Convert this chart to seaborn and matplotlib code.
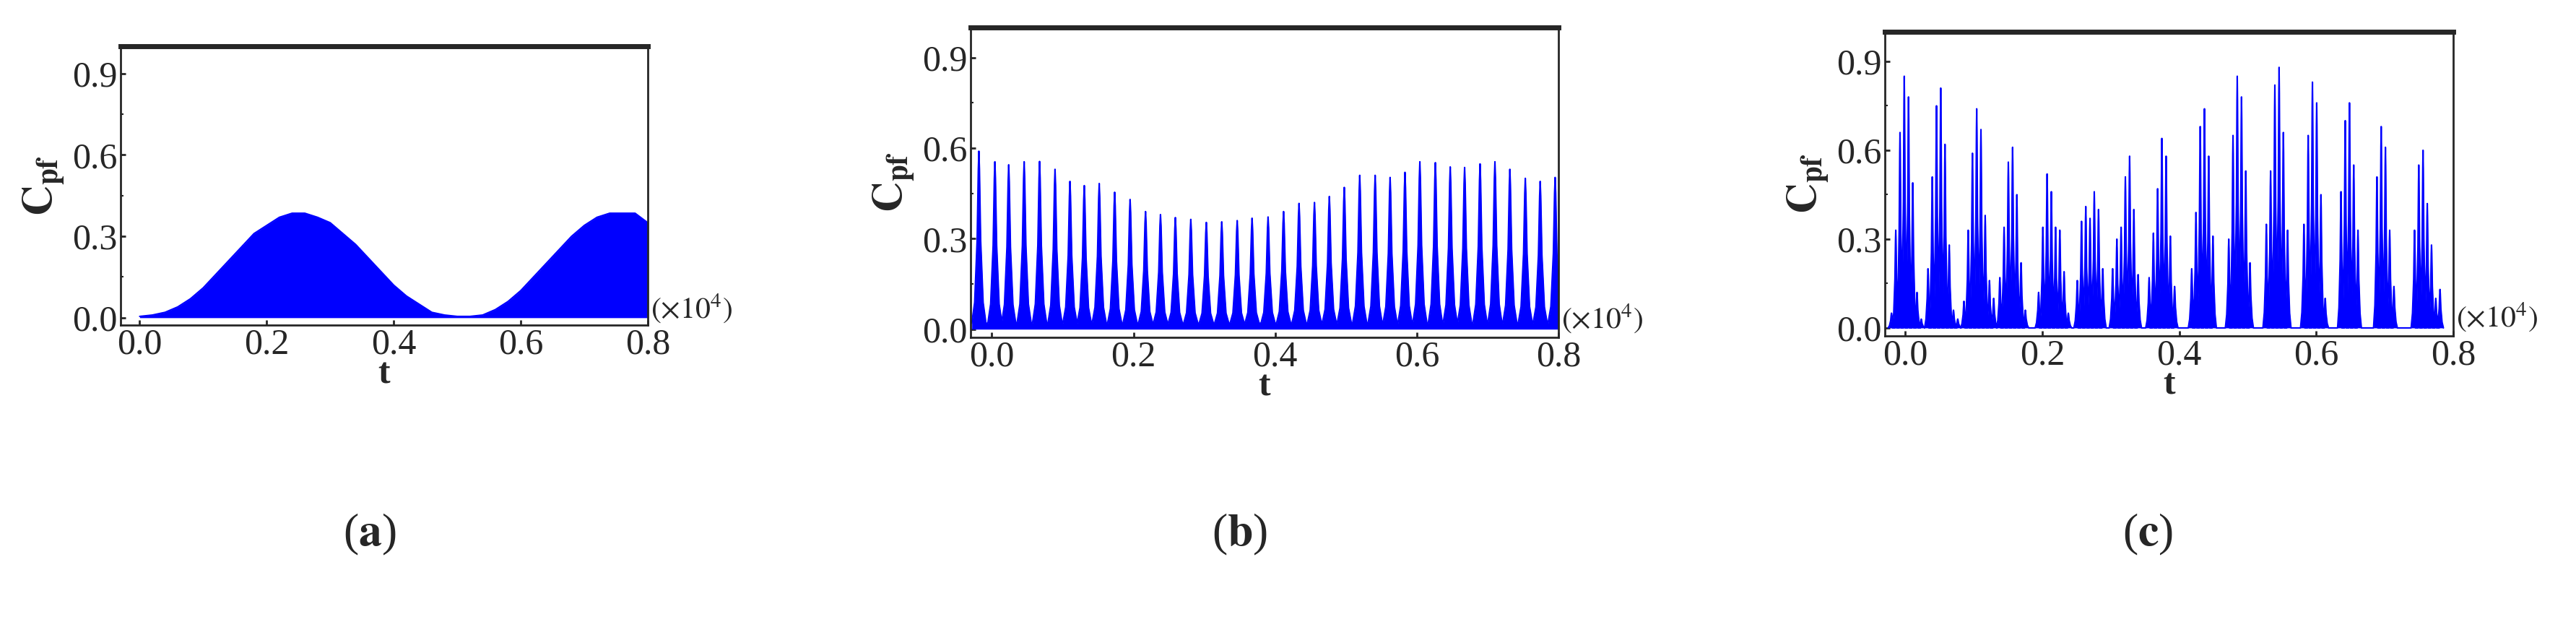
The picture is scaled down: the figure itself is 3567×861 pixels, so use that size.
import numpy as np
import pandas as pd
import seaborn as sns
import matplotlib.pyplot as plt
from matplotlib.ticker import MultipleLocator

# ---- panel (a): envelope of the filled curve, read every 200 time units
a_t = list(range(0, 8001, 200))
a_env = [0.005, 0.01, 0.02, 0.04, 0.07, 0.11, 0.16, 0.21, 0.26, 0.31, 0.34,
         0.37, 0.385, 0.385, 0.37, 0.35, 0.31, 0.27, 0.22, 0.17, 0.12, 0.08,
         0.05, 0.02, 0.01, 0.005, 0.005, 0.01, 0.03, 0.06, 0.10, 0.15, 0.20,
         0.25, 0.30, 0.34, 0.37, 0.385, 0.385, 0.385, 0.35]

# ---- panel (b): spike times and peak heights
b_t = [-183, 43, 238, 456, 674, 892, 1103, 1305, 1516, 1734, 1952, 2170, 2381,
       2591, 2809, 3028, 3246, 3464, 3674, 3900, 4119, 4337, 4555, 4765, 4976,
       5194, 5412, 5623, 5833, 6043, 6262, 6472, 6675, 6893, 7103, 7314, 7532,
       7742, 7953]
b_peak = [0.59, 0.555, 0.545, 0.555, 0.556, 0.53, 0.49, 0.476, 0.483, 0.454,
          0.43, 0.39, 0.38, 0.37, 0.364, 0.354, 0.356, 0.36, 0.368, 0.372, 0.39,
          0.417, 0.42, 0.44, 0.47, 0.51, 0.51, 0.503, 0.52, 0.555, 0.552, 0.538,
          0.536, 0.548, 0.555, 0.53, 0.5, 0.49, 0.503]

# ---- panel (c): burst start times and sub-spike heights
c_start = [-203, 330, 855, 1379, 1945, 2510, 3026, 3559, 4181, 4722, 5271,
           5820, 6361, 6886, 7435]
c_bursts = [
    [0.05, 0.33, 0.66, 0.85, 0.78, 0.49, 0.12, 0.03],
    [0.2, 0.51, 0.75, 0.81, 0.62, 0.28, 0.06, 0.03],
    [0.09, 0.33, 0.59, 0.74, 0.67, 0.38, 0.16, 0.10],
    [0.17, 0.34, 0.56, 0.61, 0.45, 0.22, 0.06],
    [0.12, 0.34, 0.52, 0.46, 0.34, 0.33, 0.19, 0.05],
    [0.16, 0.36, 0.41, 0.37, 0.46, 0.40, 0.20],
    [0.20, 0.30, 0.34, 0.51, 0.58, 0.40, 0.18],
    [0.17, 0.32, 0.47, 0.64, 0.58, 0.31, 0.14],
    [0.20, 0.39, 0.68, 0.74, 0.58, 0.31],
    [0.30, 0.65, 0.85, 0.78, 0.53, 0.22],
    [0.35, 0.53, 0.82, 0.88, 0.66, 0.33],
    [0.35, 0.65, 0.83, 0.76, 0.45, 0.10],
    [0.46, 0.70, 0.76, 0.55, 0.33],
    [0.51, 0.68, 0.61, 0.33, 0.14],
    [0.33, 0.55, 0.60, 0.42, 0.28, 0.10, 0.13],
]

panel_labels = ['a', 'b', 'c']

sns.set_style('ticks')
plt.rcParams['font.family'] = ['Liberation Serif', 'DejaVu Serif']
plt.rcParams['mathtext.fontset'] = 'stix'

BLUE = '#0000ff'


def spikes(centers, peaks, half, floor):
    # triangular-ish spike profile around each centre
    prof_x = [-1.0, -0.6, -0.25, -0.08, 0.0, 0.08, 0.25, 0.6, 1.0]
    prof_y = [0.0, 0.15, 0.5, 0.9, 1.0, 0.9, 0.5, 0.15, 0.0]
    xs, ys = [], []
    for c, p in zip(centers, peaks):
        for dx, dy in zip(prof_x, prof_y):
            xs.append(c + dx * half)
            ys.append(max(p * dy, floor))
    return pd.DataFrame({'t': xs, 'c': ys})


df_a = pd.DataFrame({'t': a_t, 'c': a_env})
df_b = spikes(b_t, b_peak, 100, 0.02)
cc, cp = [], []
for s, hs in zip(c_start, c_bursts):
    for i, h in enumerate(hs):
        cc.append(s + i * 62)
        cp.append(h)
df_c = spikes(cc, cp, 50, 0.0)

fig = plt.figure(figsize=(35.67, 8.61), dpi=100)
boxes = [(167, 64, 897, 450), (1344, 38, 2158, 467), (2610, 44, 3397, 465)]
label_x = [512, 1717, 2974]
W, H = 3567, 861
axes = []
for (l, t, r, b) in boxes:
    axes.append(fig.add_axes([l / W, 1 - b / H, (r - l) / W, (b - t) / H]))

for ax, df in zip(axes, [df_a, df_b, df_c]):
    ax.fill_between(df.t, 0, df.c, color=BLUE, lw=0)
    sns.lineplot(data=df, x='t', y='c', ax=ax, color=BLUE, lw=1.5,
                 sort=False)
    ax.set_xlim(-300, 8000)
    ax.set_ylim(-0.027, 1.0)
    ax.set_xticks([0, 2000, 4000, 6000, 8000])
    ax.set_xticklabels(['0.0', '0.2', '0.4', '0.6', '0.8'])
    ax.set_yticks([0.0, 0.3, 0.6, 0.9])
    ax.set_yticklabels(['0.0', '0.3', '0.6', '0.9'])
    ax.yaxis.set_minor_locator(MultipleLocator(0.15))
    ax.tick_params(direction='in', labelsize=36, length=5, width=2, pad=3)
    ax.tick_params(which='minor', direction='in', length=3, width=1.5)
    ax.set_xlabel('t', fontsize=36, fontweight='bold', labelpad=-4)
    ax.set_ylabel(r'$\mathbf{C_{pf}}$', fontsize=42, labelpad=6)
    for sp in ['left', 'right', 'bottom']:
        ax.spines[sp].set_linewidth(2)
    ax.spines['top'].set_linewidth(5)
    ax.text(1.005, 0.06, r'$(\times10^4)$', transform=ax.transAxes,
            fontsize=30, ha='left', va='center')

for lx, lab in zip(label_x, panel_labels):
    fig.text(lx / W, 1 - 740 / H, r'($\mathbf{' + lab + '}$)', fontsize=46,
             ha='center', va='center')

fig.savefig('out.png', dpi=100)
